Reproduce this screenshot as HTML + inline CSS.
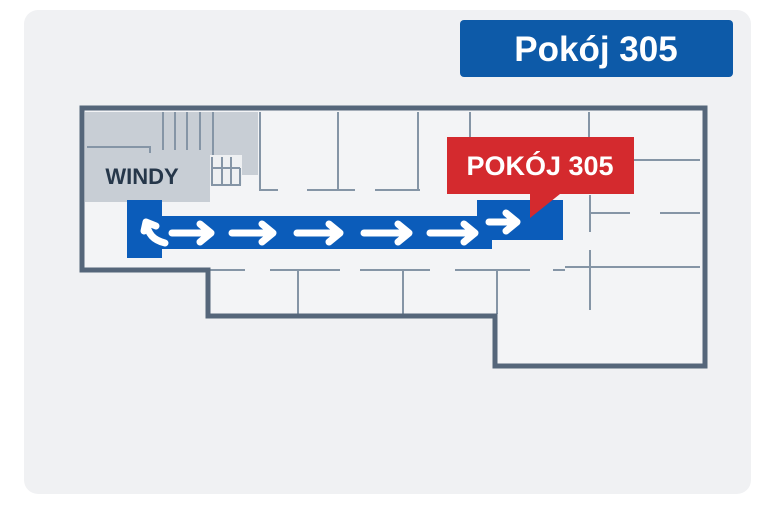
<!DOCTYPE html>
<html><head><meta charset="utf-8"><style>
body{margin:0;background:#fff;width:768px;height:512px;overflow:hidden}
</style></head><body>
<svg width="768" height="512" viewBox="0 0 768 512" xmlns="http://www.w3.org/2000/svg" font-family="Liberation Sans, sans-serif">
<rect x="24" y="10" width="727" height="484" rx="14" fill="#f0f1f3"/>
<rect x="460" y="20" width="273" height="57" rx="4" fill="#0d5aa8"/>
<text x="596" y="61" text-anchor="middle" font-size="35" font-weight="bold" fill="#fff">Pokój 305</text>
<polygon points="82,108 705,108 705,366 495,366 495,316 208,316 208,270 82,270" fill="#f3f4f6"/>
<rect x="85" y="112" width="173" height="63" fill="#c8ced5"/>
<rect x="85" y="150" width="125" height="52" fill="#c8ced5"/>
<rect x="210" y="155" width="32" height="30" fill="#eef0f2"/>
<g stroke="#8595a6" stroke-width="2" fill="none">
<path d="M163 112V150M175 112V150M187 112V150M200 112V150M213 112V155M87 147H150V153"/>
<path d="M212 157V185H240V168M212 168H240M222 157V185M231 157V185"/>
<path d="M260 112V190H278M307 190H355M375 190H420M338 112V190M418 112V190M470 112V140"/>
<path d="M589 112V145M590 160H700M590 195V232M590 213H630M660 213H700M590 250V310M590 267H700M565 267H590"/>
<path d="M82 270H245M270 270H340M360 270H430M455 270H530M553 270H565"/>
<path d="M298 270V314M403 270V314M497 270V314"/>
</g>
<polygon points="82,108 705,108 705,366 495,366 495,316 208,316 208,270 82,270" fill="none" stroke="#55667a" stroke-width="5"/>
<text x="142" y="184" text-anchor="middle" font-size="22" font-weight="bold" fill="#26374a">WINDY</text>
<g fill="#0b5cba">
<rect x="127" y="200" width="35" height="58"/>
<rect x="127" y="216" width="365" height="33"/>
<rect x="477" y="200" width="86" height="40"/>
</g>
<g stroke="#fff" stroke-width="7" stroke-linecap="round" stroke-linejoin="round" fill="none">
<path d="M165 243C153 240 148 234 146 222M146 222L144 231M146 222L156 226"/>
<path d="M172 233H210M200 224L211 233L200 242"/>
<path d="M232 233H272M262 224L273 233L262 242"/>
<path d="M297 233H339M329 224L340 233L329 242"/>
<path d="M364 233H408M398 224L409 233L398 242"/>
<path d="M430 233H474M464 224L475 233L464 242"/>
<path d="M489 222H514M506 213L517 222L506 231"/>
</g>
<polygon points="447,137 634,137 634,194 560,194 530,218 530,194 447,194" fill="#d42a2e"/>
<text x="540" y="175" text-anchor="middle" font-size="27" font-weight="bold" fill="#fff">POKÓJ 305</text>
</svg>
</body></html>
